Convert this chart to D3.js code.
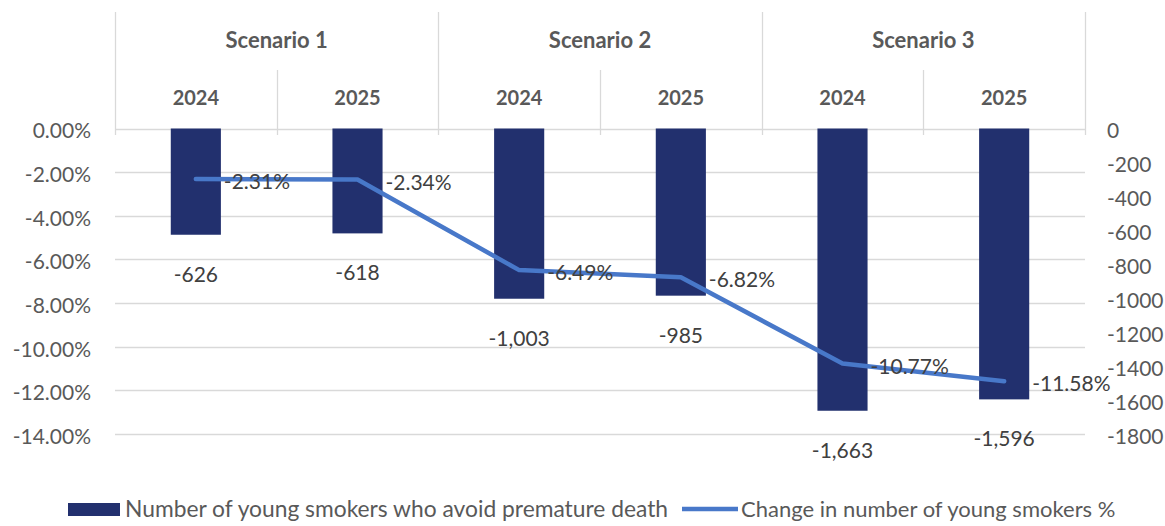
<html>
<head>
<meta charset="UTF-8">
<title>Young smokers scenarios</title>
<script src="https://d3js.org/d3.v7.min.js"></script>
<style>
  body { margin: 0; background: #fff; }
  svg text { font-family: Lato, "Open Sans", sans-serif; }
</style>
</head>
<body>
<svg width="1165" height="526"></svg>
<script>
// data
var scenarios = ["Scenario 1", "Scenario 2", "Scenario 3"];
var years = ["2024", "2025"];
var avoidedDeaths = [-626, -618, -1003, -985, -1663, -1596];
var changePct = [-2.31, -2.34, -6.49, -6.82, -10.77, -11.58];
var leftTicks = [0, -2, -4, -6, -8, -10, -12, -14];
var rightTicks = [0, -200, -400, -600, -800, -1000, -1200, -1400, -1600, -1800];
var seriesNames = ["Number of young smokers who avoid premature death", "Change in number of young smokers %"];

var categories = [];
scenarios.forEach(function(s) {
  years.forEach(function(y) { categories.push({ scenario: s, year: y }); });
});
categories.forEach(function(c, i) {
  c.deaths = avoidedDeaths[i];
  c.pct = changePct[i];
});

var svg = d3.select("svg");

var left = 115, right = 1085, top0 = 128.5, bottom = 434;
var barColor = "#22306e", lineColor = "#4878c9";
var gridColor = "#d9d9d9";

var x = d3.scaleBand()
    .domain(d3.range(categories.length))
    .range([left, right])
    .padding(0);

var xs = d3.scaleBand()
    .domain(scenarios)
    .range([left, right]);

var yPct = d3.scaleLinear().domain([0, -14]).range([top0, bottom]);
var yNum = d3.scaleLinear().domain([0, -1800]).range([top0, bottom]);

var barW = x.bandwidth() * 0.31;
var mid = function(i) { return x(i) + x.bandwidth() / 2; };

// gridlines
svg.append("g")
  .selectAll("line")
  .data(leftTicks)
  .enter().append("line")
    .attr("x1", left)
    .attr("x2", right)
    .attr("y1", function(d) { return Math.round(yPct(d)) + 0.5; })
    .attr("y2", function(d) { return Math.round(yPct(d)) + 0.5; })
    .attr("stroke", gridColor)
    .attr("stroke-width", 1.3);

// header separators (category axis on top)
var sepScen = scenarios.map(function(s) { return xs(s); }).concat([right]);
svg.append("g")
  .selectAll("line")
  .data(sepScen)
  .enter().append("line")
    .attr("x1", function(d) { return Math.round(d) + 0.5; })
    .attr("x2", function(d) { return Math.round(d) + 0.5; })
    .attr("y1", 12)
    .attr("y2", 135)
    .attr("stroke", gridColor)
    .attr("stroke-width", 1.3);

svg.append("g")
  .selectAll("line")
  .data(d3.range(categories.length).filter(function(i) { return i % 2 == 1; }))
  .enter().append("line")
    .attr("x1", function(i) { return Math.round(x(i)) + 0.5; })
    .attr("x2", function(i) { return Math.round(x(i)) + 0.5; })
    .attr("y1", 70)
    .attr("y2", 135)
    .attr("stroke", gridColor)
    .attr("stroke-width", 1.3);

svg.append("g")
  .selectAll("text")
  .data(scenarios)
  .enter().append("text")
    .attr("x", function(d) { return xs(d) + xs.bandwidth() / 2; })
    .attr("y", 48)
    .attr("text-anchor", "middle")
    .attr("font-size", 22)
    .attr("font-weight", "bold")
    .attr("fill", "#595959")
    .text(function(d) { return d; });

svg.append("g")
  .selectAll("text")
  .data(categories)
  .enter().append("text")
    .attr("x", function(d, i) { return mid(i); })
    .attr("y", 105)
    .attr("text-anchor", "middle")
    .attr("font-size", 20)
    .attr("font-weight", "bold")
    .attr("fill", "#595959")
    .text(function(d) { return d.year; });

// left axis
var pctFmt = function(d) { return (d == 0 ? "0.00" : d.toFixed(2)) + "%"; };
var gl = svg.append("g")
    .attr("transform", "translate(" + (left - 24) + ",0)")
    .call(d3.axisLeft(yPct).tickValues(leftTicks).tickSize(0).tickPadding(0).tickFormat(pctFmt));
gl.select(".domain").remove();
gl.selectAll("text")
    .attr("font-size", 21)
    .attr("fill", "#595959")
    .attr("dy", "0.45em");

// right axis
var gr = svg.append("g")
    .attr("transform", "translate(" + (right + 22) + ",0)")
    .call(d3.axisRight(yNum).tickValues(rightTicks).tickSize(0).tickPadding(0).tickFormat(function(d) { return String(d); }));
gr.select(".domain").remove();
gr.selectAll("text")
    .attr("font-size", 21)
    .attr("fill", "#595959")
    .attr("dy", "0.45em");

// bars
svg.append("g")
  .selectAll("rect")
  .data(categories)
  .enter().append("rect")
    .attr("x", function(d, i) { return mid(i) - barW / 2; })
    .attr("y", yNum(0))
    .attr("width", barW)
    .attr("height", function(d) { return yNum(d.deaths) - yNum(0); })
    .attr("fill", barColor);

var numFmt = function(d) { return (d < 0 ? "-" : "") + d3.format(",")(Math.abs(d)); };
svg.append("g")
  .selectAll("text")
  .data(categories)
  .enter().append("text")
    .attr("x", function(d, i) { return mid(i); })
    .attr("y", function(d) { return yNum(d.deaths) + 47; })
    .attr("text-anchor", "middle")
    .attr("font-size", 21)
    .attr("fill", "#404040")
    .text(function(d) { return numFmt(d.deaths); });

// line
var line = d3.line()
    .x(function(d, i) { return mid(i); })
    .y(function(d) { return yPct(d.pct); });

svg.append("path")
    .datum(categories)
    .attr("d", line)
    .attr("fill", "none")
    .attr("stroke", lineColor)
    .attr("stroke-width", 4.5)
    .attr("stroke-linejoin", "round")
    .attr("stroke-linecap", "round");

svg.append("g")
  .selectAll("text")
  .data(categories)
  .enter().append("text")
    .attr("x", function(d, i) { return mid(i) + 28; })
    .attr("y", function(d) { return yPct(d.pct) + 10; })
    .attr("font-size", 21)
    .attr("fill", "#404040")
    .text(function(d) { return d.pct.toFixed(2) + "%"; });

// legend
var lg = svg.append("g");
lg.append("rect")
    .attr("x", 68).attr("y", 503)
    .attr("width", 52).attr("height", 13)
    .attr("fill", barColor);
lg.append("text")
    .attr("x", 125).attr("y", 517)
    .attr("font-size", 22.8)
    .attr("fill", "#595959")
    .text(seriesNames[0]);
lg.append("line")
    .attr("x1", 682).attr("x2", 738)
    .attr("y1", 509).attr("y2", 509)
    .attr("stroke", lineColor)
    .attr("stroke-width", 4.5);
lg.append("text")
    .attr("x", 741).attr("y", 517)
    .attr("font-size", 22)
    .attr("fill", "#595959")
    .text(seriesNames[1]);
</script>
</body>
</html>
